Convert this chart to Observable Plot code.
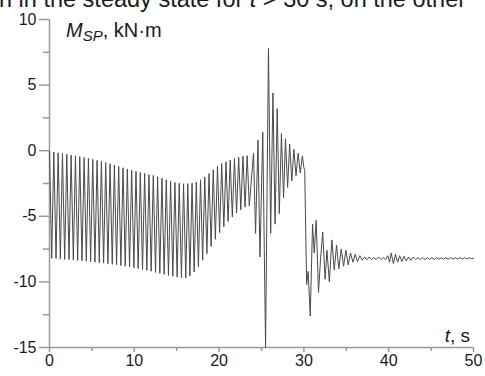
<!DOCTYPE html>
<html>
<head>
<meta charset="utf-8">
<script src="https://cdn.jsdelivr.net/npm/d3@7"></script>
<script src="https://cdn.jsdelivr.net/npm/@observablehq/plot@0.6"></script>
<style>
  body { margin: 0; background: #fff; }
  #chart svg { display: block; }
</style>
</head>
<body>
<div id="chart"></div>
<script>
// Upper turning points of the pre-transition oscillation (t in s, M in kN·m)
const topT = [0.00,0.51,1.02,1.53,2.04,2.55,3.06,3.57,4.08,4.59,5.10,5.61,6.12,6.63,7.14,7.65,8.16,8.67,9.18,9.69,10.20,10.71,11.22,11.73,12.24,12.75,13.26,13.77,14.28,14.79,15.30,15.81,16.31,16.81,17.31,17.81,18.31,18.81,19.31,19.81,20.31,20.81,21.31,21.81,22.31,22.81,23.31];
const topV = [-0.05,-0.10,-0.16,-0.22,-0.27,-0.33,-0.39,-0.45,-0.52,-0.59,-0.66,-0.74,-0.82,-0.91,-1.00,-1.10,-1.20,-1.30,-1.39,-1.48,-1.57,-1.65,-1.73,-1.81,-1.89,-1.99,-2.10,-2.22,-2.33,-2.42,-2.48,-2.52,-2.52,-2.48,-2.38,-2.22,-2.00,-1.74,-1.45,-1.18,-0.98,-0.85,-0.72,-0.60,-0.50,-0.42,-0.38];
// Lower turning points
const botT = [0.26,0.77,1.28,1.79,2.30,2.81,3.32,3.83,4.34,4.85,5.36,5.87,6.38,6.89,7.40,7.91,8.42,8.93,9.44,9.95,10.46,10.97,11.48,11.99,12.50,13.01,13.52,14.03,14.54,15.05,15.56,16.07,16.56,17.06,17.56,18.06,18.56,19.06,19.56,20.06,20.56,21.06,21.56,22.06,22.56,23.06,23.56];
const botV = [-8.20,-8.22,-8.25,-8.28,-8.30,-8.33,-8.36,-8.39,-8.42,-8.45,-8.49,-8.53,-8.57,-8.61,-8.66,-8.70,-8.75,-8.80,-8.86,-8.92,-8.98,-9.05,-9.12,-9.19,-9.27,-9.35,-9.43,-9.51,-9.58,-9.64,-9.68,-9.70,-9.55,-9.25,-8.85,-8.35,-7.85,-7.30,-6.75,-6.25,-5.80,-5.40,-5.05,-4.75,-4.50,-4.30,-4.20];
// Transient and steady state after t ≈ 24 s
const tranT = [24.06,24.30,24.58,24.82,25.15,25.48,25.82,26.08,26.35,26.60,26.85,27.10,27.35,27.60,27.83,28.08,28.32,28.57,28.82,29.07,29.32,29.57,29.82,30.00,30.10,30.32,30.50,30.75,31.02,31.22,31.45,31.72,31.95,32.22,32.50,32.72,33.00,33.30,33.58,33.85,34.12,34.40,34.68,34.95,35.22,35.50,35.78,36.05,36.32,36.60,36.88,37.15,37.42,37.70,37.98,38.25,38.52,38.80,39.08,39.35,39.62,39.90,40.10,40.30,40.55,40.80,41.05,41.30,41.55,41.80,42.08,42.35,42.62,42.90,43.18,43.45,43.72,44.00,44.28,44.55,44.82,45.10,45.38,45.65,45.92,46.20,46.48,46.75,47.02,47.30,47.58,47.85,48.12,48.40,48.68,48.95,49.22,49.50,49.78,50.00];
const tranV = [-0.20,-6.30,0.80,-8.10,1.40,-15.00,7.80,-6.30,4.40,-5.60,3.20,-4.80,1.30,-3.60,0.90,-2.80,0.50,-2.30,0.10,-1.90,-0.20,-1.70,-0.40,-1.30,-1.50,-10.20,-9.20,-12.60,-5.60,-7.80,-5.30,-10.80,-8.40,-6.20,-9.80,-7.60,-10.00,-6.80,-9.10,-7.20,-9.00,-7.50,-8.80,-7.60,-8.70,-7.80,-8.50,-7.90,-8.45,-8.00,-8.35,-8.10,-8.30,-8.10,-8.30,-8.15,-8.30,-8.10,-8.30,-8.15,-8.30,-8.00,-8.50,-7.80,-8.60,-7.90,-8.50,-8.00,-8.45,-8.05,-8.40,-8.10,-8.35,-8.10,-8.30,-8.15,-8.30,-8.15,-8.30,-8.15,-8.28,-8.15,-8.28,-8.15,-8.27,-8.15,-8.27,-8.15,-8.27,-8.15,-8.26,-8.15,-8.26,-8.15,-8.26,-8.15,-8.25,-8.15,-8.25,-8.20];

const yMajor = [-15, -10, -5, 0, 5, 10];
const yMinor = [-12.5, -7.5, -2.5, 2.5, 7.5];
const xMajor = [0, 10, 20, 30, 40, 50];
const xMinor = [5, 15, 25, 35, 45];

const data = [];
topT.forEach((t, i) => data.push({t, m: topV[i]}));
botT.forEach((t, i) => data.push({t, m: botV[i]}));
tranT.forEach((t, i) => data.push({t, m: tranV[i]}));
data.sort((a, b) => a.t - b.t);

const axisColor = "#9a9a9a";
const textColor = "#1a1a1a";
const fmt = d => String(d);

const chart = Plot.plot({
  width: 485,
  height: 376,
  marginLeft: 49,
  marginRight: 12,
  marginTop: 19,
  marginBottom: 29,
  style: {fontFamily: "'Liberation Sans', Arial, sans-serif", fontSize: "16px", color: textColor, background: "#fff"},
  x: {domain: [0, 50]},
  y: {domain: [-15, 10]},
  marks: [
    Plot.ruleX([0], {stroke: axisColor, strokeWidth: 1.5}),
    Plot.ruleY([-15], {stroke: axisColor, strokeWidth: 1.5}),
    Plot.axisY({ticks: yMajor, tickSize: 10, tickPadding: 3, tickFormat: fmt, stroke: axisColor, strokeWidth: 1.5, label: null, fill: textColor}),
    Plot.axisY({ticks: yMinor, tickSize: 6, tickFormat: () => "", stroke: axisColor, strokeWidth: 1.5, label: null}),
    Plot.axisX({ticks: xMajor, tickSize: 5, tickPadding: 2, tickFormat: fmt, stroke: axisColor, strokeWidth: 1.5, label: null, fill: textColor}),
    Plot.axisX({ticks: xMinor, tickSize: 4, tickFormat: () => "", stroke: axisColor, strokeWidth: 1.5, label: null}),
    Plot.line(data, {x: "t", y: "m", stroke: "#4a4a4a", strokeWidth: 1})
  ]
});

document.getElementById("chart").appendChild(chart);

const svg = d3.select(chart);
const ff = "'Liberation Sans', Arial, sans-serif";

// enlarge tick labels
svg.selectAll("g[aria-label$='tick label']").attr("font-size", 16)
  .selectAll("text").attr("font-size", 16);

// cut-off line of the surrounding text at the top
svg.append("text")
  .attr("x", -1).attr("y", 7).attr("text-anchor", "start")
  .attr("font-family", ff).attr("font-size", 23.5).attr("fill", textColor)
  .call(t => {
    t.append("tspan").text("h in the steady state for ");
    t.append("tspan").attr("font-style", "italic").text("t");
    t.append("tspan").text(" > 30 s, on the other");
  });

// y label
svg.append("text")
  .attr("x", 66).attr("y", 37).attr("text-anchor", "start")
  .attr("font-family", ff).attr("font-size", 20).attr("fill", textColor)
  .call(t => {
    t.append("tspan").attr("font-style", "italic").text("M");
    t.append("tspan").attr("font-style", "italic").attr("font-size", 15).attr("dy", 4).text("SP");
    t.append("tspan").attr("dy", -4).text(", kN·m");
  });

// x label
svg.append("text")
  .attr("x", 470).attr("y", 342).attr("text-anchor", "end")
  .attr("font-family", ff).attr("font-size", 19).attr("fill", textColor)
  .call(t => {
    t.append("tspan").attr("font-style", "italic").text("t");
    t.append("tspan").text(", s");
  });
</script>
</body>
</html>
